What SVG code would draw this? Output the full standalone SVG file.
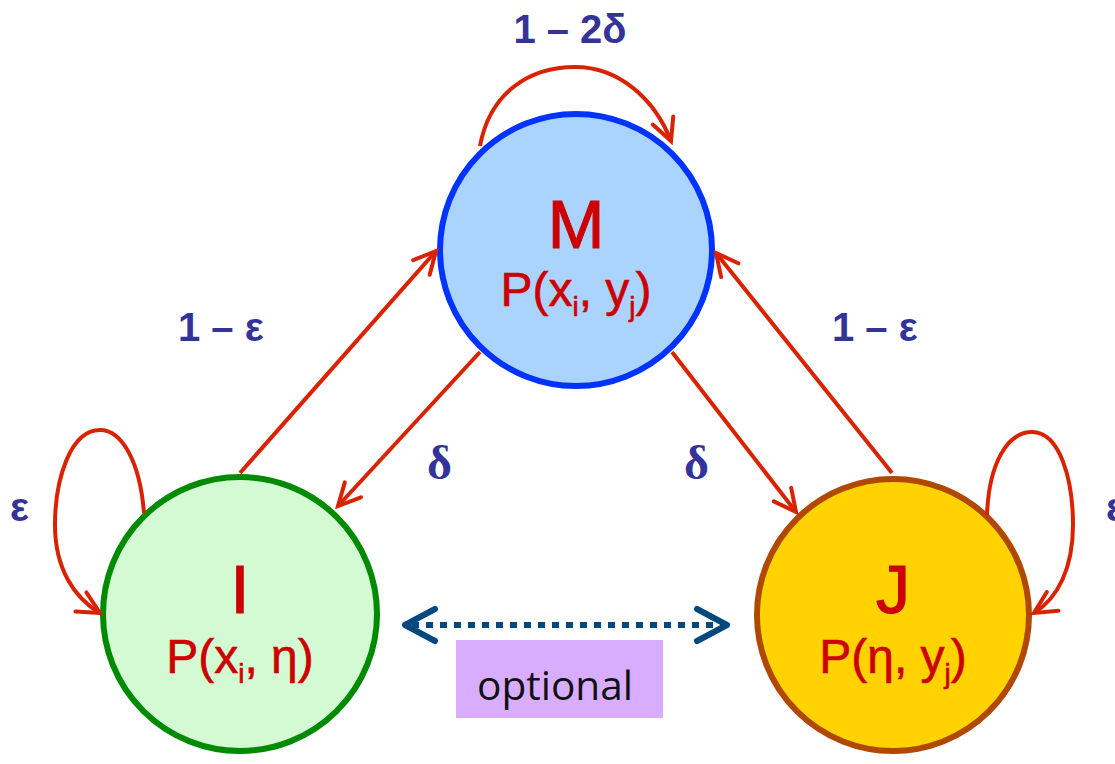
<svg xmlns="http://www.w3.org/2000/svg" width="1115" height="764" viewBox="0 0 1115 764">
<style>
.edge{fill:none;stroke:#d92300;stroke-width:4;marker-end:url(#arr)}
.lbl{font-family:"Liberation Sans",Arial,sans-serif;font-weight:bold;font-size:40px;fill:#333399}
.greek{font-family:"Liberation Serif","Times New Roman",serif;font-size:48px;font-weight:bold;fill:#333399}
.big{font-family:"Liberation Sans",Arial,sans-serif;font-size:68px;fill:#cc0000;stroke:#cc0000;stroke-width:1.2;text-anchor:middle}
.sub{font-family:"Liberation Sans",Arial,sans-serif;font-size:48px;fill:#cc0000;stroke:#cc0000;stroke-width:0.6;text-anchor:middle}
.s{font-size:28px}
</style>
<defs>
<marker id="arr" viewBox="-26 -14 30 28" refX="0" refY="0" markerWidth="30" markerHeight="28" markerUnits="userSpaceOnUse" orient="auto">
<path d="M-22,-11 L0,0 L-22,11" fill="none" stroke="#d92300" stroke-width="4" stroke-linecap="round"/>
</marker>
</defs>
<rect width="1115" height="764" fill="#ffffff"/>
<g id="node-M">
<circle cx="576" cy="250" r="136" fill="#aad4fd" stroke="#0033ff" stroke-width="6"/>
<text class="big" x="576" y="248">M</text>
<text class="sub" x="576" y="306">P(x<tspan class="s" dy="10">i</tspan><tspan dy="-10">, y</tspan><tspan class="s" dy="10">j</tspan><tspan dy="-10">)</tspan></text>
</g>
<g id="node-I">
<circle cx="240" cy="614" r="137" fill="#d3fad3" stroke="#008a00" stroke-width="6"/>
<text class="big" x="240" y="613">I</text>
<text class="sub" x="240" y="673">P(x<tspan class="s" dy="10">i</tspan><tspan dy="-10">, η)</tspan></text>
</g>
<g id="node-J">
<circle cx="893" cy="615" r="136" fill="#ffd200" stroke="#b04800" stroke-width="6"/>
<text class="big" x="893" y="613">J</text>
<text class="sub" x="893" y="673">P(η, y<tspan class="s" dy="10">j</tspan><tspan dy="-10">)</tspan></text>
</g>
<g id="connectors">
<path class="edge" d="M240,473 L436,251"/>
<path class="edge" d="M480,352 L338,506"/>
<path class="edge" d="M672,352 L796,512"/>
<path class="edge" d="M892,473 L716,253"/>
<path class="edge" d="M480,146 C490,92 530,67 575,67 C620,67 655,100 671,141"/>
<path class="edge" d="M144,513 C140,462 122,430 100,430 C70,430 55,480 55,525 C55,568 74,598 100,613"/>
<path class="edge" d="M987,515 C989,462 1008,432 1032,432 C1060,432 1073,480 1073,525 C1073,568 1058,598 1034,613"/>
<g id="optional-link" stroke="#00487e" fill="none" stroke-width="6">
<line x1="412" y1="625" x2="722" y2="625" stroke-dasharray="7 7"/>
<path d="M435,609 L405,625 L435,641" stroke-linecap="round" stroke-linejoin="round"/>
<path d="M697,609 L727,625 L697,641" stroke-linecap="round" stroke-linejoin="round"/>
</g>
</g>
<g id="labels">
<text class="lbl" x="570" y="43" text-anchor="middle">1 – 2δ</text>
<text class="lbl" x="178" y="341">1 – ε</text>
<text class="lbl" x="832" y="341">1 – ε</text>
<text class="greek" x="427" y="479">δ</text>
<text class="greek" x="684" y="479">δ</text>
<text class="lbl" x="10" y="521">ε</text>
<text class="lbl" x="1106" y="521">ε</text>
</g>
<g id="optional-box">
<rect x="456" y="640" width="207" height="78" fill="#d8adff"/>
<text x="477" y="700" font-family="'Open Sans','Liberation Sans',sans-serif" font-size="40" fill="#111111" textLength="156" lengthAdjust="spacingAndGlyphs">optional</text>
</g>
</svg>
